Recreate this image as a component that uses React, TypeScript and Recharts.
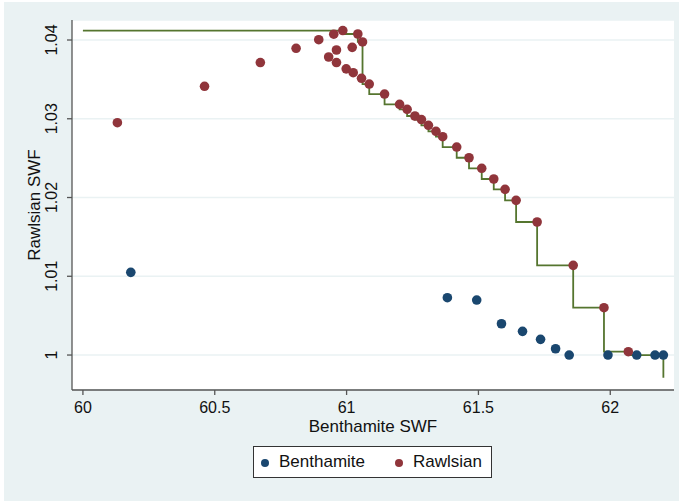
import React from 'react';
import { ComposedChart, Scatter, Line, XAxis, YAxis, CartesianGrid, Label } from 'recharts';

const xTicks = [60, 60.5, 61, 61.5, 62];
const yTicks = [1, 1.01, 1.02, 1.03, 1.04];

const benthamiteX = [60.1816, 61.3822, 61.4935, 61.5874, 61.6672, 61.7356, 61.7926, 61.8442, 61.9913, 62.1003, 62.1698, 62.2014];
const benthamiteY = [1.0105, 1.00728, 1.00698, 1.00397, 1.00301, 1.00199, 1.0008, 1.0, 1.0, 1.0, 1.0, 1.0];

const rawlsianX = [
  60.1307, 60.4612, 60.6729, 60.8085, 60.8944, 60.9514, 60.9856, 61.0426, 61.0604, 61.0213,
  60.9616, 60.932, 60.9616, 60.9985, 61.0251, 61.0566, 61.0859, 61.144, 61.201, 61.2295,
  61.2591, 61.2838, 61.3104, 61.3389, 61.3644, 61.4176, 61.4643, 61.5125, 61.5581, 61.601,
  61.6429, 61.7226, 61.8594, 61.9761, 62.0684,
];
const rawlsianY = [
  1.0295, 1.03412, 1.03714, 1.03895, 1.04004, 1.04074, 1.0412, 1.04076, 1.03975, 1.03907,
  1.03873, 1.03784, 1.03714, 1.03634, 1.03585, 1.03514, 1.03441, 1.03314, 1.03183, 1.0312,
  1.03035, 1.0299, 1.02917, 1.02841, 1.02772, 1.02641, 1.02505, 1.02371, 1.02235, 1.02104,
  1.01964, 1.01689, 1.01139, 1.00601, 1.00042,
];

const frontierX = [
  60, 60.9856, 61.0426, 61.0604, 61.0859, 61.144, 61.201, 61.2295, 61.2591, 61.2838,
  61.3104, 61.3389, 61.3644, 61.4176, 61.4643, 61.5125, 61.5581, 61.601, 61.6429, 61.7226,
  61.8594, 61.9761, 62.0684, 62.2014, 62.2014,
];
const frontierY = [
  1.0412, 1.0412, 1.04076, 1.03975, 1.03441, 1.03314, 1.03183, 1.0312, 1.03035, 1.0299,
  1.02917, 1.02841, 1.02772, 1.02641, 1.02505, 1.02371, 1.02235, 1.02104, 1.01964, 1.01689,
  1.01139, 1.00601, 1.00042, 1.0, 0.9971,
];

const benthamiteData = benthamiteX.map((x, i) => ({ x, y: benthamiteY[i] }));
const rawlsianData = rawlsianX.map((x, i) => ({ x, y: rawlsianY[i] }));
const frontierData = frontierX.map((x, i) => ({ x, y: frontierY[i] }));

const FONT = '"Liberation Sans", Arial, Helvetica, sans-serif';
const NAVY = '#1a476f';
const MAROON = '#90353b';
const GREEN = '#55752f';
const BG = '#eaf2f3';
const AXIS = '#555555';

const XTick = (props: any) => {
  const { x, y, payload } = props;
  return (
    <text x={x} y={y + 16} textAnchor="middle" fontSize={16} fontFamily={FONT} fill="#111">
      {String(payload.value)}
    </text>
  );
};

const YTick = (props: any) => {
  const { x, y, payload } = props;
  const bx = x - 8;
  return (
    <text
      x={bx}
      y={y}
      textAnchor="middle"
      fontSize={16}
      fontFamily={FONT}
      fill="#111"
      transform={`rotate(-90, ${bx}, ${y})`}
    >
      {String(payload.value)}
    </text>
  );
};

const navyDot = (props: any) => <circle cx={props.cx} cy={props.cy} r={4.8} fill={NAVY} />;
const maroonDot = (props: any) => <circle cx={props.cx} cy={props.cy} r={4.8} fill={MAROON} />;

export default function App() {
  return (
    <div style={{ position: 'fixed', left: 0, top: 0, width: 679, height: 501, background: '#fff' }}>
      <div style={{ position: 'absolute', left: 4, top: 2, width: 675, height: 499, background: BG }} />
      <div style={{ position: 'absolute', left: 0, top: 0 }}>
        <ComposedChart width={679} height={501} margin={{ top: 20, right: 5, bottom: 0, left: 0 }}>
          <CartesianGrid vertical={false} horizontal={true} fill="#ffffff" stroke={BG} strokeWidth={1.5} />
          <XAxis
            type="number"
            dataKey="x"
            domain={[59.9586, 62.2417]}
            ticks={xTicks}
            allowDataOverflow
            height={111}
            tickSize={5}
            tick={<XTick />}
            axisLine={{ stroke: AXIS, strokeWidth: 1.3 }}
            tickLine={{ stroke: AXIS, strokeWidth: 1.3 }}
          >
            <Label
              content={(p: any) => {
                const vb = p.viewBox || { x: 72, y: 390, width: 602 };
                return (
                  <text x={vb.x + vb.width / 2} y={vb.y + 42} textAnchor="middle" fontSize={17} fontFamily={FONT} fill="#111">
                    Benthamite SWF
                  </text>
                );
              }}
            />
          </XAxis>
          <YAxis
            type="number"
            dataKey="y"
            domain={[0.99556, 1.04254]}
            ticks={yTicks}
            allowDataOverflow
            width={72}
            tickSize={5}
            tick={<YTick />}
            axisLine={{ stroke: AXIS, strokeWidth: 1.3 }}
            tickLine={{ stroke: AXIS, strokeWidth: 1.3 }}
          >
            <Label
              content={(p: any) => {
                const vb = p.viewBox || { x: 0, y: 20, height: 370 };
                const cy = vb.y + vb.height / 2;
                return (
                  <text x={40} y={cy} textAnchor="middle" fontSize={17} fontFamily={FONT} fill="#111" transform={`rotate(-90, 40, ${cy})`}>
                    Rawlsian SWF
                  </text>
                );
              }}
            />
          </YAxis>
          <Scatter name="Benthamite" data={benthamiteData} shape={navyDot} isAnimationActive={false} />
          <Scatter name="Rawlsian" data={rawlsianData} shape={maroonDot} isAnimationActive={false} />
          <Line
            data={frontierData}
            dataKey="y"
            type="stepBefore"
            stroke={GREEN}
            strokeWidth={1.8}
            dot={false}
            activeDot={false}
            isAnimationActive={false}
            legendType="none"
          />
        </ComposedChart>
      </div>
      <div
        style={{
          position: 'absolute',
          left: 253,
          top: 446,
          width: 239,
          height: 32,
          boxSizing: 'border-box',
          border: '1px solid #333',
          background: '#fff',
          fontFamily: FONT,
          fontSize: 17,
          color: '#111',
        }}
      >
        <span style={{ position: 'absolute', left: 7, top: 12, width: 8, height: 8, borderRadius: 4, background: NAVY }} />
        <span style={{ position: 'absolute', left: 25, top: 5, lineHeight: '20px' }}>Benthamite</span>
        <span style={{ position: 'absolute', left: 141, top: 12, width: 8, height: 8, borderRadius: 4, background: MAROON }} />
        <span style={{ position: 'absolute', left: 159, top: 5, lineHeight: '20px' }}>Rawlsian</span>
      </div>
    </div>
  );
}
